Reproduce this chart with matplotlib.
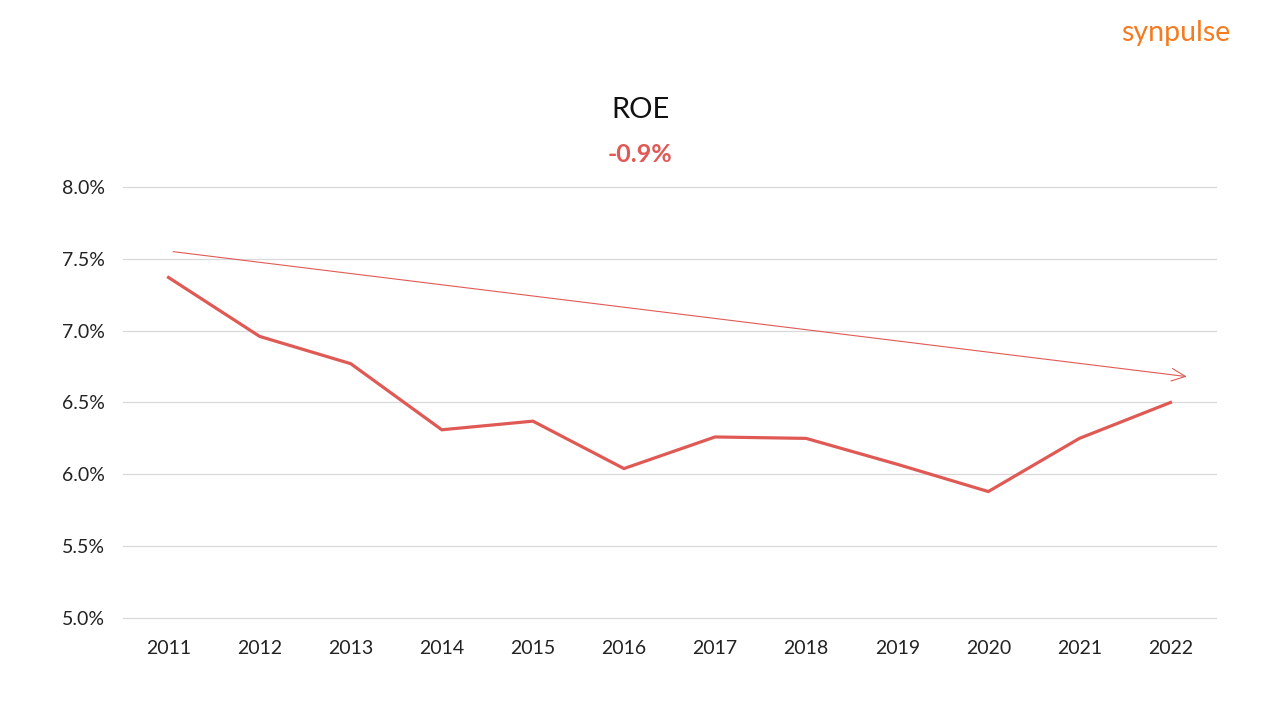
import matplotlib
matplotlib.use("Agg")
import matplotlib.pyplot as plt
from matplotlib.ticker import FuncFormatter

plt.rcParams['font.family'] = ['Lato', 'DejaVu Sans']

years = [2011, 2012, 2013, 2014, 2015, 2016, 2017, 2018, 2019, 2020, 2021, 2022]
roe = [7.37, 6.96, 6.77, 6.31, 6.37, 6.04, 6.26, 6.25, 6.07, 5.88, 6.25, 6.50]
trend_x = [2011.05, 2022.18]
trend_y = [7.55, 6.68]
yticks = [5.0, 5.5, 6.0, 6.5, 7.0, 7.5, 8.0]
title = "ROE"
change_label = "-0.9%"
brand = "synpulse"

red = "#E05A55"
fig = plt.figure(figsize=(12.8, 7.2), dpi=100)
ax = fig.add_axes([0.0961, 0.1417, 0.95 - 0.0961, 0.7403 - 0.1417])

ax.plot(years, roe, color=red, lw=2.3, solid_joinstyle='miter', zorder=3)
ax.annotate("", xy=(trend_x[1], trend_y[1]), xytext=(trend_x[0], trend_y[0]),
            arrowprops=dict(arrowstyle="->,head_length=1.0,head_width=0.45",
                            color=red, lw=0.8, shrinkA=0, shrinkB=0), zorder=3)

ax.set_xlim(2010.5, 2022.5)
ax.set_ylim(5.0, 8.0)
ax.set_yticks(yticks)
ax.set_xticks(years)
ax.set_xticklabels([str(y) for y in years])
ax.yaxis.set_major_formatter(FuncFormatter(lambda v, p: f"{v:.1f}%"))
ax.grid(axis='y', color="#D9D9D9", lw=0.9)
for gl in ax.get_ygridlines():
    gl.set_clip_on(False)
ax.set_axisbelow(True)
for s in ax.spines.values():
    s.set_visible(False)
ax.tick_params(axis='both', length=0, labelsize=14, colors="#222222")
ax.tick_params(axis='y', pad=13)
ax.tick_params(axis='x', pad=16)

fig.text(0.5, 1 - 110 / 720, title, ha='center', va='center', fontsize=21, color="#111111")
fig.text(0.5, 1 - 155 / 720, change_label, ha='center', va='center', fontsize=18,
         fontweight='bold', color=red)
fig.text(1230 / 1280, 1 - 33 / 720, brand, ha='right', va='center', fontsize=20.5,
         color="#F47B20")

fig.savefig("out.png", dpi=100)
